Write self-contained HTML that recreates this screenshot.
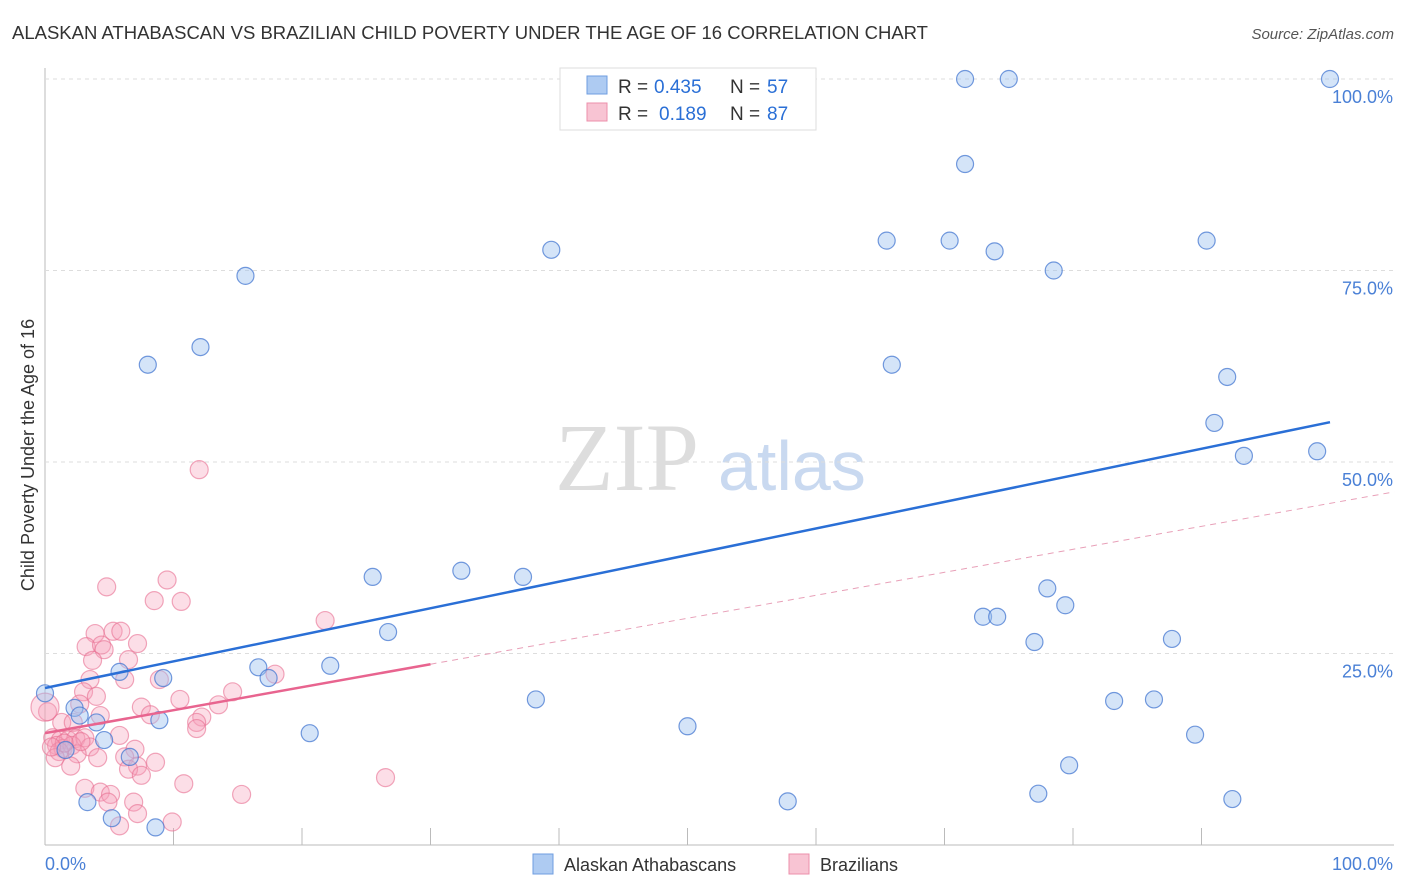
<!DOCTYPE html>
<html><head><meta charset="utf-8"><style>
body{margin:0;background:#fff;font-family:"Liberation Sans",sans-serif}
svg{display:block}
</style></head><body>
<svg id="c" width="1406" height="892">
<text x="12" y="39" font-size="18.5" fill="#333">ALASKAN ATHABASCAN VS BRAZILIAN CHILD POVERTY UNDER THE AGE OF 16 CORRELATION CHART</text>
<text x="1394" y="39" font-size="15" fill="#555" text-anchor="end" font-style="italic">Source: ZipAtlas.com</text>
<text x="34" y="455" font-size="18" fill="#333" text-anchor="middle" transform="rotate(-90 34 455)">Child Poverty Under the Age of 16</text>
<text x="555" y="490" font-size="96" fill="#ddd" font-family="Liberation Serif,serif">ZIP</text>
<text x="718" y="490" font-size="70" fill="#c9d9f0">atlas</text>
<g id="grid"></g><g id="pts"></g><g id="lines"></g>
<g>
<rect x="560" y="68" width="256" height="62" fill="#fff" stroke="#ddd"/>
<rect x="587" y="76" width="20" height="18" fill="#aecbf2" stroke="#6f9ee0"/>
<rect x="587" y="103" width="20" height="18" fill="#f8c4d3" stroke="#ec8fab"/>
<text x="618" y="93" font-size="19" fill="#333">R =</text>
<text x="654" y="93" font-size="19" fill="#2a6fd6">0.435</text>
<text x="730" y="93" font-size="19" fill="#333">N =</text>
<text x="767" y="93" font-size="19" fill="#2a6fd6">57</text>
<text x="618" y="120" font-size="19" fill="#333">R =</text>
<text x="659" y="120" font-size="19" fill="#2a6fd6">0.189</text>
<text x="730" y="120" font-size="19" fill="#333">N =</text>
<text x="767" y="120" font-size="19" fill="#2a6fd6">87</text>
</g>
<g>
<rect x="533" y="854" width="20" height="20" fill="#aecbf2" stroke="#6f9ee0"/>
<text x="564" y="871" font-size="18" fill="#333">Alaskan Athabascans</text>
<rect x="789" y="854" width="20" height="20" fill="#f8c4d3" stroke="#ec8fab"/>
<text x="820" y="871" font-size="18" fill="#333">Brazilians</text>
</g>
</svg>
<script>
const yTicks=[25,50,75,100];
const blueX=[71.6,75,100,71.6,65.5,70.4,73.9,90.4,78.5,39.4,15.6,12.1,8,65.9,92,91,93.3,99,25.5,32.4,37.2,78,79.4,73,74.1,26.7,77,87.7,22.2,16.6,17.4,9.2,5.8,38.2,83.2,86.3,8.9,4.0,2.3,2.7,50,20.6,4.6,89.5,1.6,6.6,79.7,0,3.3,5.2,8.6,57.8,77.3,92.4];
const blueY=[100,100,100,88.9,78.9,78.9,77.5,78.9,75,77.7,74.3,65,62.7,62.7,61.1,55.1,50.8,51.4,35,35.8,35,33.5,31.3,29.8,29.8,27.8,26.5,26.9,23.4,23.2,21.8,21.8,22.6,19,18.8,19,16.3,16,17.9,16.9,15.5,14.6,13.7,14.4,12.4,11.5,10.4,19.8,5.6,3.5,2.3,5.7,6.7,6];
const pinkX=[12,4.8,9.5,8.5,10.6,21.8,3.9,5.3,5.9,3.2,4.4,4.6,7.2,3.7,6.5,3.5,6.2,8.9,17.9,3,4,14.6,10.5,2.7,13.5,7.5,0.2,8.2,4.3,12.2,1.3,2.2,11.8,11.8,5.8,0.6,1.2,1.8,2.4,3.1,0.9,1.4,2.1,3.5,7,1.1,2.5,0.8,4.1,6.2,8.6,7.2,2,6.5,7.5,26.5,10.8,3.1,4.3,5.1,15.3,4.9,6.9,7.2,5.8,9.9,0,1.5,2.8,0.5];
const pinkY=[49,33.7,34.6,31.9,31.8,29.3,27.6,27.9,27.9,25.9,26.1,25.5,26.3,24.1,24.2,21.6,21.6,21.6,22.3,20,19.4,20,19,18.4,18.3,18,17.4,17,16.9,16.7,16,16,16,15.2,14.3,14,13.7,13.7,13.9,14,13,12.6,13,12.8,12.5,12.2,11.9,11.4,11.4,11.5,10.8,10.3,10.3,9.9,9.1,8.8,8,7.4,6.9,6.6,6.6,5.6,5.6,4.1,2.5,3,18,13.3,13.5,12.8];
const blueLine=[20.5,55.2];
const pinkLine=[14.6,44.6];
const X=v=>45+v*12.85, Y=v=>845-v*7.66;
const NS="http://www.w3.org/2000/svg";
function mk(t,a,p){const e=document.createElementNS(NS,t);for(const k in a)e.setAttribute(k,a[k]);p.appendChild(e);return e;}
const g=document.getElementById('grid'),pts=document.getElementById('pts'),ln=document.getElementById('lines');
let e=mk('line',{x1:45,y1:68,x2:45,y2:845,stroke:'#bbb'},g);

e=mk('line',{x1:45,y1:845,x2:1394,y2:845,stroke:'#bbb'},g);

yTicks.forEach(t=>{
 e=mk('line',{x1:45,y1:Y(t),x2:1394,y2:Y(t),stroke:'#ddd','stroke-dasharray':'4 4'},g);
 
 e=mk('text',{x:1393,y:Y(t)+24,'font-size':18,fill:'#4a80d6','text-anchor':'end'},g);e.textContent=t.toFixed(1)+'%';
 
});
for(let i=0;i<=10;i++){e=mk('line',{x1:X(i*10),y1:845,x2:X(i*10),y2:i%10==0?845:828,stroke:'#bbb'},g);
 }
[[0,'start',45],[100,'end',1393]].forEach(([v,a,x])=>{e=mk('text',{x:x,y:870,'font-size':18,fill:'#4a80d6','text-anchor':a},g);e.textContent=v.toFixed(1)+'%';
 });
pinkX.forEach((v,i)=>{e=mk('circle',{cx:X(v),cy:Y(pinkY[i]),r:i==66?14:9,fill:'rgba(245,160,185,0.35)',stroke:'rgba(232,110,145,0.6)','stroke-width':1.2},pts);
 });
blueX.forEach((v,i)=>{e=mk('circle',{cx:X(v),cy:Y(blueY[i]),r:8.5,fill:'rgba(160,195,240,0.45)',stroke:'rgba(70,120,210,0.75)','stroke-width':1.2},pts);
 });
e=mk('line',{x1:X(0),y1:Y(blueLine[0]),x2:X(100),y2:Y(blueLine[1]),stroke:'#2a6fd6','stroke-width':2.5},ln);

const py=x=>pinkLine[0]+(pinkLine[1]-pinkLine[0])*x/100;
e=mk('line',{x1:X(0),y1:Y(py(0)),x2:X(30),y2:Y(py(30)),stroke:'#e8648f','stroke-width':2.5},ln);

e=mk('line',{x1:X(30),y1:Y(py(30)),x2:X(105),y2:Y(py(105)),stroke:'#e8a0b8','stroke-width':1,'stroke-dasharray':'6 5'},ln);

</script>
</body></html>
